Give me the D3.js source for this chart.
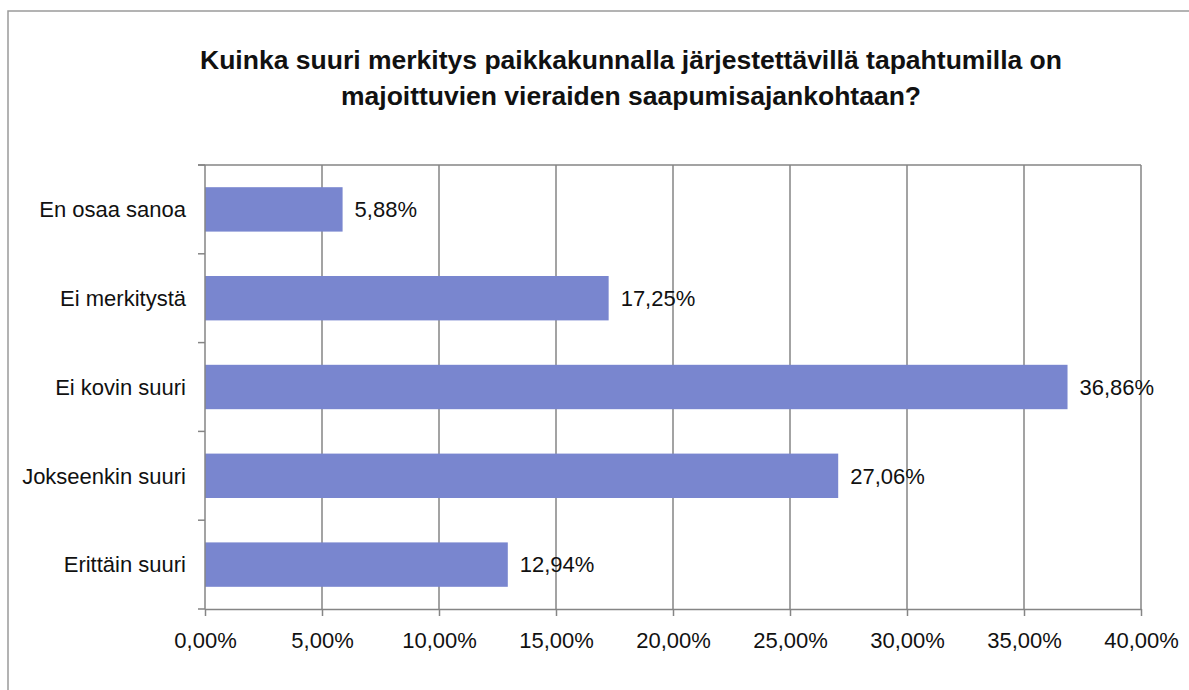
<!DOCTYPE html>
<html><head><meta charset="utf-8">
<script src="https://cdn.jsdelivr.net/npm/d3@7"></script>
<style>body{margin:0;background:#fff}svg{display:block}</style>
</head><body>
<svg id="c" width="1189" height="690"></svg>
<script>
const categories = ["En osaa sanoa","Ei merkitystä","Ei kovin suuri","Jokseenkin suuri","Erittäin suuri"];
const values = [5.88,17.25,36.86,27.06,12.94];
const ticks = [0,5,10,15,20,25,30,35,40];
const titleLines = ["Kuinka suuri merkitys paikkakunnalla järjestettävillä tapahtumilla on","majoittuvien vieraiden saapumisajankohtaan?"];

const svg = d3.select("#c");
const font = "'Liberation Sans', Arial, sans-serif";
const grid = "#858585";
const L=205,R=1141,T=165,B=609;
const x = d3.scaleLinear().domain([0,40]).range([L,R]);
const y = d3.scaleBand().domain(categories).range([T,B]).paddingInner(0.5).paddingOuter(0.25);
const fmt = v => v.toFixed(2).replace(".",",")+"%";
const fs = 22;

svg.append("rect").attr("x",8).attr("y",11).attr("width",1300).attr("height",800)
  .attr("fill","none").attr("stroke","#9a9a9a").attr("stroke-width",1.5);

// title
const tw=[862,580], tb=[69,105];
titleLines.forEach((t,i)=>{
  svg.append("text").attr("x",631).attr("y",tb[i]).attr("text-anchor","middle")
   .attr("font-family",font).attr("font-weight","bold").attr("font-size",25)
   .attr("textLength",tw[i]).attr("lengthAdjust","spacingAndGlyphs").attr("fill","#111").text(t);
});

// gridlines
svg.append("g").selectAll("line").data(ticks.slice(1)).join("line")
  .attr("x1",d=>x(d)).attr("x2",d=>x(d)).attr("y1",T).attr("y2",B)
  .attr("stroke",grid).attr("stroke-width",1.5);
svg.append("line").attr("x1",198).attr("x2",R).attr("y1",T).attr("y2",T).attr("stroke",grid).attr("stroke-width",1.5);

// bars
svg.append("g").selectAll("rect").data(values).join("rect")
  .attr("x",x(0)).attr("y",(d,i)=>y(categories[i])).attr("height",y.bandwidth())
  .attr("width",d=>x(d)-x(0)).attr("fill","#7986cf");

// value labels
svg.append("g").selectAll("text").data(values).join("text")
  .attr("x",d=>x(d)+12).attr("y",(d,i)=>y(categories[i])+y.bandwidth()/2)
  .attr("dy","0.35em").attr("font-family",font).attr("font-size",fs).attr("fill","#111")
  .text(d=>fmt(d));

// x axis
const xa = svg.append("g").attr("transform",`translate(0,${B})`)
  .call(d3.axisBottom(x).tickValues(ticks).tickSize(7).tickFormat(fmt).tickSizeOuter(0));
xa.select(".domain").attr("stroke",grid).attr("stroke-width",1.5);
xa.selectAll(".tick line").attr("stroke",grid).attr("stroke-width",1.5);
xa.selectAll("text").attr("font-family",font).attr("font-size",fs).attr("fill","#111").attr("y",39).attr("dy",0);

// y axis
const step = (B-T)/categories.length;
svg.append("line").attr("x1",L).attr("x2",L).attr("y1",T).attr("y2",B).attr("stroke",grid).attr("stroke-width",1.5);
svg.append("g").selectAll("line").data(d3.range(categories.length+1)).join("line")
  .attr("x1",198).attr("x2",L).attr("y1",d=>T+d*step).attr("y2",d=>T+d*step)
  .attr("stroke",grid).attr("stroke-width",1.5);
svg.append("g").selectAll("text").data(categories).join("text")
  .attr("x",186).attr("y",d=>y(d)+y.bandwidth()/2).attr("dy","0.35em").attr("text-anchor","end")
  .attr("font-family",font).attr("font-size",fs).attr("fill","#111").text(d=>d);
</script>
</body></html>
